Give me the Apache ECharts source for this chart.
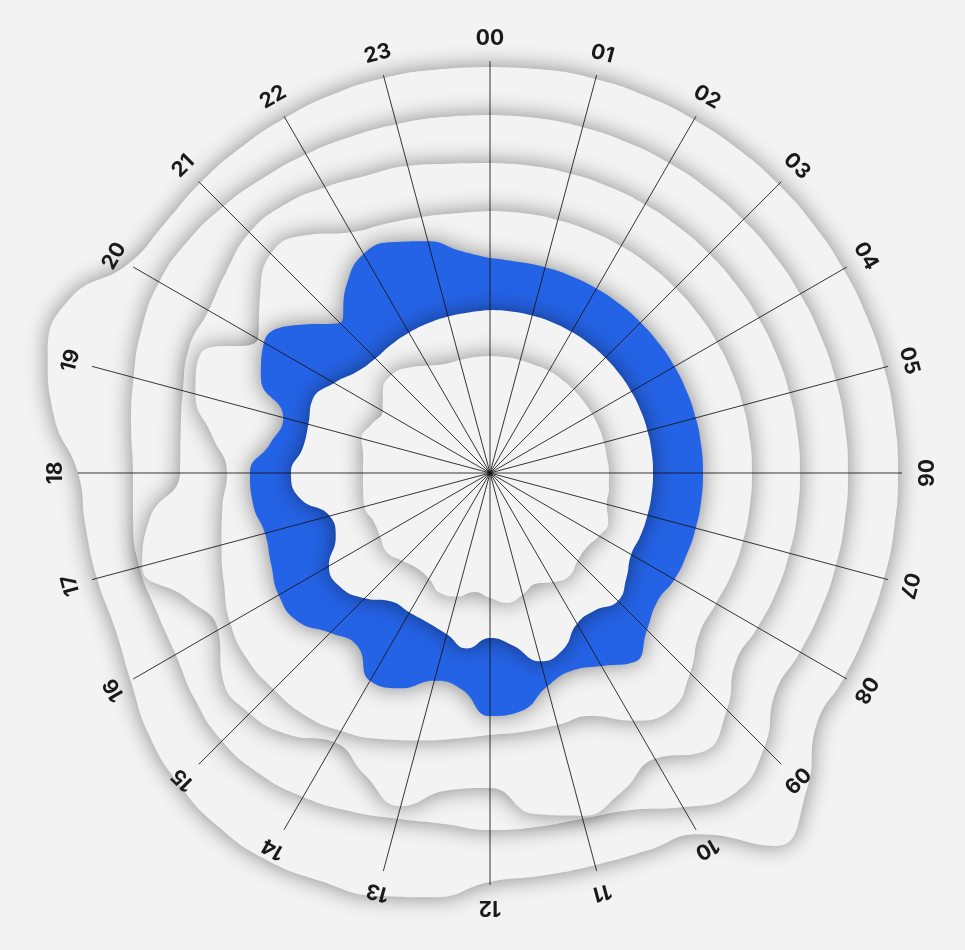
<!DOCTYPE html>
<html>
<head>
<meta charset="utf-8">
<script src="https://cdn.jsdelivr.net/npm/echarts@6/dist/echarts.min.js"></script>
<style>
html,body{margin:0;padding:0;background:#f3f3f3;}
#chart{width:965px;height:950px;}
</style>
</head>
<body>
<div id="chart"></div>
<script>
// hour tick labels around the circle
const hourLabels = ['00','01','02','03','04','05','06','07','08','09','10','11',
                    '12','13','14','15','16','17','18','19','20','21','22','23'];

// sample positions (in hours) shared by every layer
const angles = [];
for (let k = 0; k < 48; k++) angles.push(k / 2);

// layer radii (outermost first), one value per half hour
const layer1 = [406,407,408,408,408,408,408,408, 408,408,408,408,408,408,408,408,
                409,412,448,470,417,409,406,406, 409,428,438,442,447,446,440,430,
                415,406,407,408,412,440,458,455, 418,410,410,410,410,410,409,407];
const layer2 = [358,358,358,358,358,358,358,358, 358,358,358,358,358,358,358,358,
                358,360,388,403,386,365,358,357, 357,354,358,366,374,379,379,372,
                363,361,363,360,357,362,369,377, 382,381,377,372,368,364,361,359];
const layer3 = [310,310,310,310,310,310,310,310, 310,310,310,310,310,310,310,310,
                309,310,335,351,330,345,355,344, 315,320,345,327,311,330,340,337,
                314,328,360,343,310,312,318,326, 325,332,340,338,330,322,318,312];
const layer4 = [262,262,262,262,262,262,262,262, 262,262,262,262,262,262,262,262,
                261,264,283,298,286,263,261,261, 262,268,277,288,298,305,306,306,
                300,288,278,270,263,280,305,313, 268,290,310,300,278,270,265,262];
const layer5 = [215,213,213,213,213,213,213,213, 213,213,213,213,213,213,213,213,
                213,211,222,238,223,214,221,240, 243,218,215,233,240,218,226,243,
                244,237,233,239,240,222,214,248, 261,243,212,236,253,250,240,224];
const layer6 = [163,163,163,163,163,163,163,163, 163,163,163,163,163,163,163,163,
                163,172,181,173,174,191,195,174, 165,177,167,162,161,162,177,188,
                186,167,166,192,199,189,188,192, 180,167,162,162,162,162,162,162];
const layer7 = [117,117,117,117,118,118,118,118, 118,118,118,118,119,120,121,128,
                126,122,124,130,126,120,126,131, 125,120,128,130,122,120,124,130,
                127,126,130,128,127,128,133,128, 124,135,139,133,124,118,117,117];

const layers = [layer1, layer2, layer3, layer4, layer5, layer6, layer7];
const layerColors = ['#f3f3f3','#f3f3f3','#f3f3f3','#f3f3f3','#2563e6','#f3f3f3','#f3f3f3'];

const gridMax = 412;       // extent of the radial grid lines
const dataMax = 500;       // extent of the data polar (same scale: 1 unit = 1 px)
const labelRadius = 434;   // where the hour labels sit

function closedLoop(values) {
  const d = angles.map((a, i) => [values[i], a]);
  d.push([values[0], 24]);
  return d;
}

const series = layers.map((vals, i) => ({
  type: 'line',
  coordinateSystem: 'polar',
  polarIndex: 1,
  data: closedLoop(vals),
  smooth: 0.5,
  symbol: 'none',
  clip: false,
  silent: true,
  z: 2 + i,
  lineStyle: { width: 0, opacity: 0 },
  areaStyle: {
    color: layerColors[i],
    opacity: 1,
    shadowBlur: 22,
    shadowColor: 'rgba(0,0,0,0.45)'
  }
}));

series.push({
  type: 'custom',
  coordinateSystem: 'polar',
  polarIndex: 1,
  silent: true,
  clip: false,
  z: 30,
  data: hourLabels.map((t, i) => [labelRadius, i]),
  renderItem: function (params, api) {
    const h = api.value(1);
    const p = api.coord([api.value(0), h]);
    return {
      type: 'text',
      x: p[0],
      y: p[1],
      rotation: -h / 24 * Math.PI * 2,
      style: {
        text: hourLabels[params.dataIndex],
        fill: '#1a1a1a',
        fontSize: 21,
        fontWeight: 'bold',
        fontFamily: 'Inter, Roboto, sans-serif',
        align: 'center',
        verticalAlign: 'middle'
      }
    };
  }
});

const hiddenRadius = {
  type: 'value', min: 0,
  axisLine: { show: false }, axisTick: { show: false },
  axisLabel: { show: false }, splitLine: { show: false }
};

const chart = echarts.init(document.getElementById('chart'));
chart.setOption({
  backgroundColor: '#f3f3f3',
  animation: false,
  polar: [
    { center: [490, 473], radius: gridMax },
    { center: [490, 473], radius: dataMax }
  ],
  angleAxis: [
    {
      polarIndex: 0,
      type: 'value', min: 0, max: 24, interval: 1,
      startAngle: 90, clockwise: true, z: 20,
      axisLine: { show: false }, axisTick: { show: false }, axisLabel: { show: false },
      splitLine: { show: true, lineStyle: { color: 'rgba(20,20,20,0.85)', width: 1 } }
    },
    {
      polarIndex: 1,
      type: 'value', min: 0, max: 24, interval: 1,
      startAngle: 90, clockwise: true,
      axisLine: { show: false }, axisTick: { show: false }, axisLabel: { show: false },
      splitLine: { show: false }
    }
  ],
  radiusAxis: [
    Object.assign({ polarIndex: 0, max: gridMax }, hiddenRadius),
    Object.assign({ polarIndex: 1, max: dataMax }, hiddenRadius)
  ],
  series: series
});
</script>
</body>
</html>
